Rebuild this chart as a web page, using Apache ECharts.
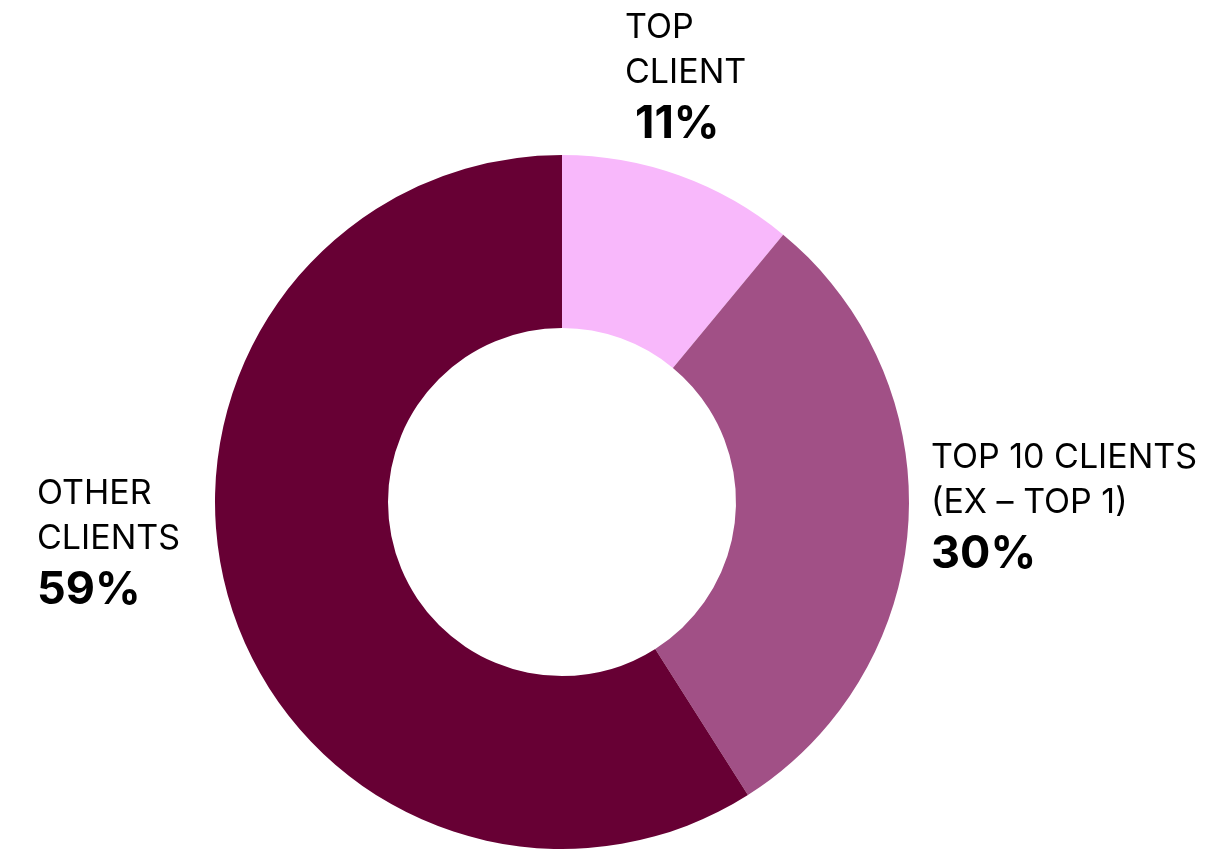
<!DOCTYPE html>
<html>
<head>
<meta charset="utf-8">
<script src="https://cdn.jsdelivr.net/npm/echarts@6/dist/echarts.min.js"></script>
<style>
  html, body { margin: 0; padding: 0; background: #ffffff; }
  #chart { width: 1214px; height: 850px; }
</style>
</head>
<body>
<div id="chart"></div>
<script>
// Revenue share by client group
const categories = ['TOP\nCLIENT', 'TOP 10 CLIENTS\n(EX \u2013 TOP 1)', 'OTHER\nCLIENTS'];
const shares = [11, 30, 59];
const colors = ['#F8B8FB', '#A15086', '#670034'];

// Where each label block sits (top-left corner)
const labelAnchors = [
  { x: 625, y: 5, indent: 10 },
  { x: 931, y: 435, indent: 0 },
  { x: 37, y: 471, indent: 0 }
];

const chart = echarts.init(document.getElementById('chart'), null, { renderer: 'canvas' });

chart.setOption({
  animation: false,
  backgroundColor: '#ffffff',
  series: [{
    type: 'pie',
    center: [562, 502],
    radius: [174, 347],
    startAngle: 90,
    clockwise: true,
    silent: true,
    data: categories.map((name, i) => ({
      name: name,
      value: shares[i],
      itemStyle: { color: colors[i] },
      label: {
        rich: {
          pct: {
            fontFamily: 'Inter',
            fontWeight: 'bold',
            fontSize: 45,
            lineHeight: 58,
            color: '#000',
            padding: [0, 0, 0, labelAnchors[i].indent]
          }
        }
      }
    })),
    label: {
      show: true,
      position: 'outside',
      formatter: p => p.name + '\n{pct|' + p.value + '%}',
      fontFamily: 'Inter',
      fontSize: 34,
      lineHeight: 45,
      color: '#000',
      align: 'left',
      overflow: 'none',
      width: 400
    },
    labelLine: { show: false },
    labelLayout: p => {
      const a = labelAnchors[p.dataIndex];
      return { x: a.x, y: a.y, align: 'left', verticalAlign: 'top' };
    }
  }]
});
</script>
</body>
</html>
